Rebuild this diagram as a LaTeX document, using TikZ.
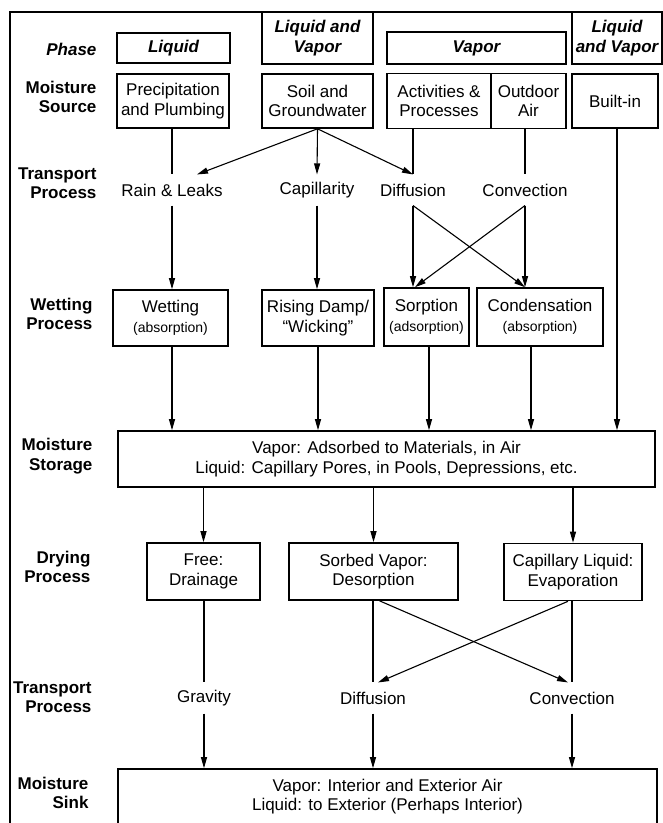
\documentclass[tikz,border=0pt]{standalone}
\usepackage{fontspec}
\setmainfont{Liberation Sans}
\usetikzlibrary{arrows.meta}

\begin{document}
\begin{tikzpicture}[x=1pt, y=-1pt, line width=1.1pt, >={Triangle[length=11pt, width=6pt]},
        main/.style = {draw, line width=1.6pt, align=center, inner sep=0pt, font=\fontsize{17}{19.5}\selectfont},
        txt/.style = {align=center, inner sep=0pt, minimum height=30pt, font=\fontsize{17}{19.5}\selectfont},
        side/.style = {align=right, anchor=east, inner sep=0pt, font=\fontsize{17}{19.5}\selectfont\bfseries}]
        \useasboundingbox (0,0) rectangle (663,823);
        \draw[line width=1.8pt] (10,840) -- (10,12) -- (680,12);

        % phase
        \node[main, minimum width=113pt, minimum height=30pt] (1) at (173.5,48)  {\bfseries\itshape Liquid};
        \node[main, minimum width=111pt, minimum height=52pt] (2) at (317.5,38)  {\bfseries\itshape Liquid and\\\bfseries\itshape Vapor};
        \node[main, minimum width=179pt, minimum height=32pt] (3) at (476.5,48)  {\bfseries\itshape Vapor};
        \node[main, minimum width=90pt, minimum height=52pt]  (4) at (617,38)    {\bfseries\itshape Liquid\\\bfseries\itshape and Vapor};

        % moisture source
        \node[main, minimum width=112pt, minimum height=54pt] (5) at (173,101)   {Precipitation\\and Plumbing};
        \node[main, minimum width=111pt, minimum height=54pt] (6) at (317.5,101) {Soil and\\Groundwater};
        \node[main, minimum width=104pt, minimum height=55pt] (7) at (439,101)   {Activities \&\\Processes};
        \node[main, minimum width=75pt, minimum height=55pt]  (8) at (528.5,101) {Outdoor\\Air};
        \node[main, minimum width=86pt, minimum height=54pt]  (9) at (615,101)   {Built-in};

        % transport
        \node[txt] (10) at (172,190) {Rain \& Leaks};
        \node[txt] (11) at (317,190) {Capillarity};
        \node[txt] (12) at (413,190) {Diffusion};
        \node[txt] (13) at (525,190) {Convection};

        % wetting
        \node[main, minimum width=115pt, minimum height=56pt] (14) at (170.5,318) {Wetting\\{\fontsize{14}{16}\selectfont(absorption)}};
        \node[main, minimum width=112pt, minimum height=56pt] (15) at (318,318)   {Rising Damp/\\``Wicking''};
        \node[main, minimum width=85pt, minimum height=58pt]  (16) at (426.5,317) {Sorption\\{\fontsize{14}{16}\selectfont(adsorption)}};
        \node[main, minimum width=126pt, minimum height=58pt] (17) at (540,317)   {Condensation\\{\fontsize{14}{16}\selectfont(absorption)}};

        % storage
        \node[main, minimum width=537pt, minimum height=56pt] (18) at (386.5,459) {Vapor: Adsorbed to Materials, in Air\\Liquid: Capillary Pores, in Pools, Depressions, etc.};

        % drying
        \node[main, minimum width=113pt, minimum height=57pt] (19) at (203.5,571.5) {Free:\\Drainage};
        \node[main, minimum width=169pt, minimum height=57pt] (20) at (373.5,571.5) {Sorbed Vapor:\\Desorption};
        \node[main, minimum width=138pt, minimum height=57pt] (21) at (573,572)     {Capillary Liquid:\\Evaporation};

        % transport out
        \node[txt] (22) at (204,698) {Gravity};
        \node[txt] (23) at (373,698) {Diffusion};
        \node[txt] (24) at (572,698) {Convection};

        % sink
        \node[main, minimum width=539pt, minimum height=55pt] (25) at (387.5,796.5) {Vapor: Interior and Exterior Air\\Liquid: to Exterior (Perhaps Interior)};

        % row labels
        \node[side] (26) at (97,49)  {\itshape Phase};
        \node[side] (27) at (97,97)  {Moisture\\Source};
        \node[side] (28) at (97,183) {Transport\\Process};
        \node[side] (29) at (93,314) {Wetting\\Process};
        \node[side] (30) at (93,456) {Moisture\\Storage};
        \node[side] (31) at (91,567) {Drying\\Process};
        \node[side] (32) at (92,697) {Transport\\Process};
        \node[side] (33) at (89,793) {Moisture\\Sink};

        \draw (10.north |- 5.south) -- (10.north);
        \draw[->] (6.south) -- ([xshift=25pt]10.north);
        \draw[->] (6.south) -- (11.north);
        \draw[->] (6.south) -- (12.north);
        \draw (12.north |- 7.south) -- (12.north);
        \draw (13.north |- 8.south) -- (13.north);
        \draw[->] ([xshift=2pt]9.south) -- ([xshift=2pt]9.south |- 18.north);

        \draw[->] (10.south) -- (10.south |- 14.north);
        \draw[->] (11.south) -- (11.south |- 15.north);
        \draw[->] (12.south) -- (12.south |- 16.north);
        \draw[->] (12.south) -- (13.south |- 17.north);
        \draw[->] (13.south) -- (13.south |- 17.north);
        \draw[->] (13.south) -- ([xshift=2pt]12.south |- 16.north);

        \draw[->] ([xshift=1.5pt]14.south) -- ([xshift=1.5pt]14.south |- 18.north);
        \draw[->] (15.south) -- (15.south |- 18.north);
        \draw[->] ([xshift=2.5pt]16.south) -- ([xshift=2.5pt]16.south |- 18.north);
        \draw[->] ([xshift=-9pt]17.south) -- ([xshift=-9pt]17.south |- 18.north);

        \draw[->] (19.north |- 18.south) -- (19.north);
        \draw[->] (20.north |- 18.south) -- (20.north);
        \draw[->] (21.north |- 18.south) -- (21.north);

        \draw (22.north |- 19.south) -- (22.north);
        \draw (23.north |- 20.south) -- (23.north);
        \draw (24.north |- 21.south) -- (24.north);
        \draw[->] ([xshift=6pt]20.south) -- ([xshift=-4pt]24.north);
        \draw[->] ([xshift=-5pt]21.south) -- ([xshift=5pt]23.north);

        \draw[->] (22.south) -- (22.south |- 25.north);
        \draw[->] (23.south) -- (23.south |- 25.north);
        \draw[->] (24.south) -- (24.south |- 25.north);

    \end{tikzpicture}
\end{document}
